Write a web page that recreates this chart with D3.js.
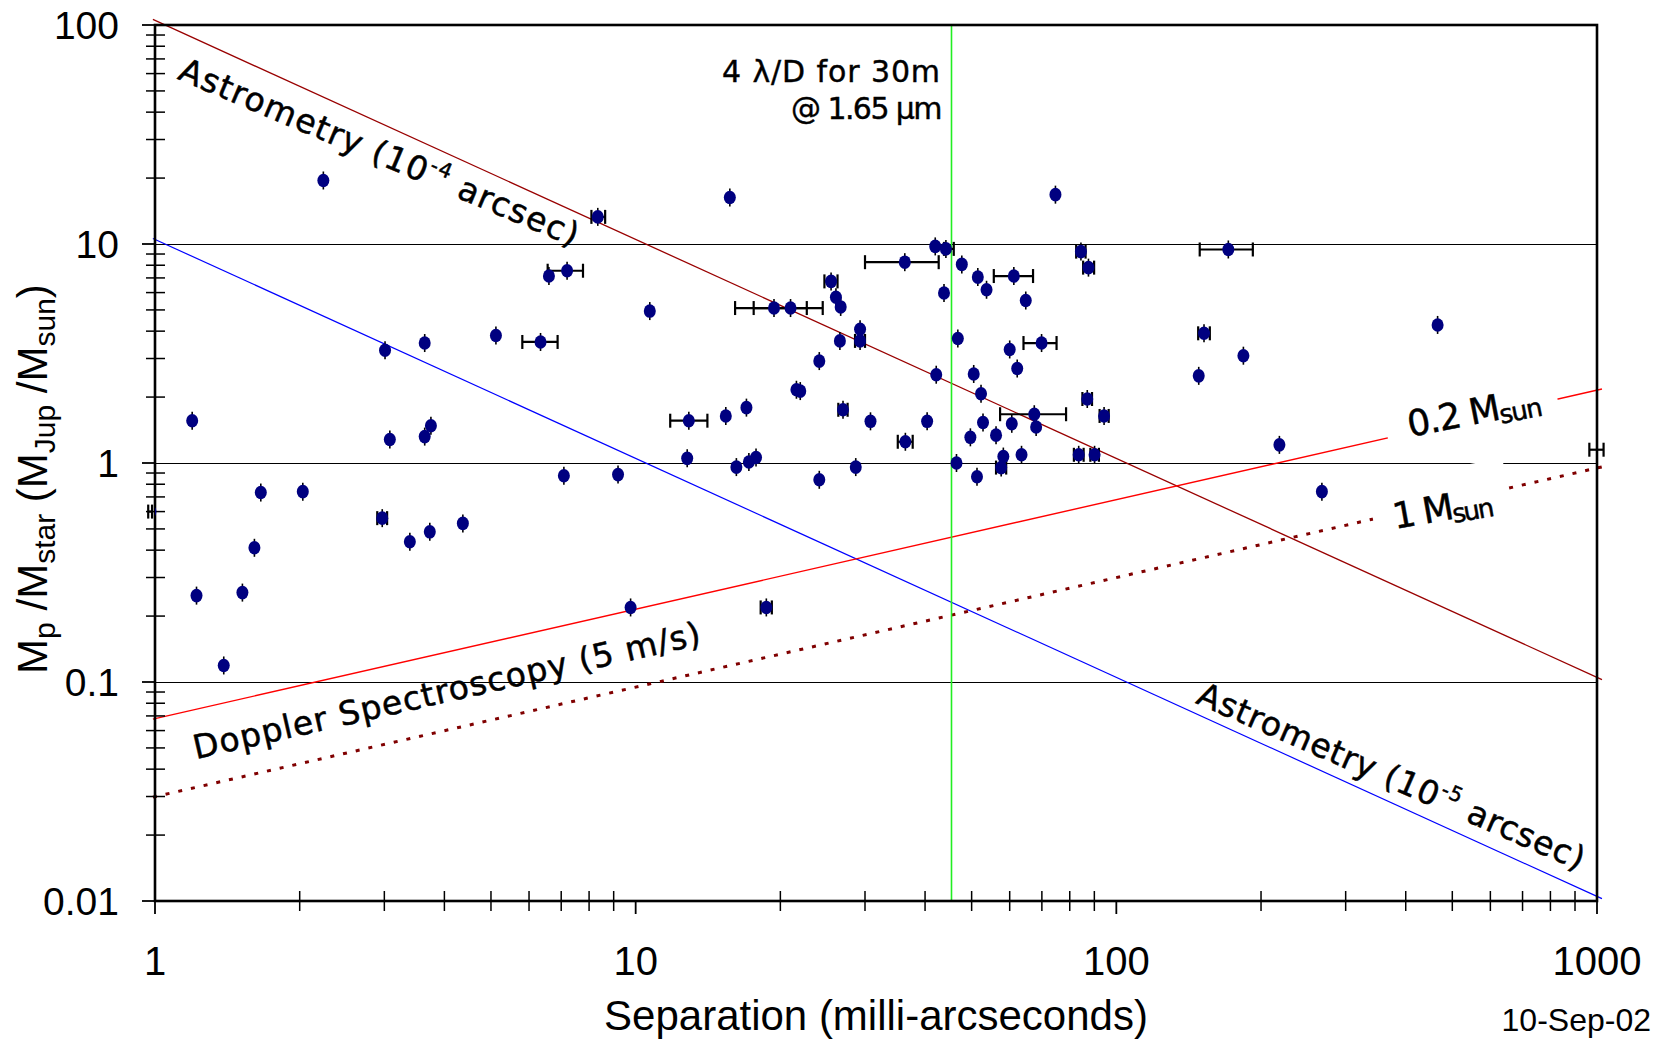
<!DOCTYPE html>
<html><head><meta charset="utf-8">
<script src="https://cdn.jsdelivr.net/npm/d3@7"></script>
<style>body{margin:0;background:#fff;} svg{display:block;}</style>
</head><body>
<svg id="chart" width="1665" height="1041"></svg>
<script>
// ---------------- DATA ----------------
// points without separation error bars
const sepPlain = [1.195,1.22,1.39,1.52,1.61,1.66,2.24,2.03,3.01,3.08,3.39,3.64,3.64,3.75,3.73,4.37,5.12,6.6,7.09,9.19,9.76,10.7,12.8,15.4,15.7,16.2,17.0,17.2,17.8,21.6,22.0,24.1,24.1,26.1,26.7,26.6,28.7,29.3,30.8,40.4,42.0,42.2,43.8,46.5,46.8,47.7,50.5,51.3,51.5,52.3,52.8,53.7,49.7,56.2,58.2,60.0,60.6,62.2,63.5,64.8,68.1,74.7,148.4,183.8,218.4,267.7,466];
const massPlain = [1.56,0.248,0.119,0.256,0.41,0.733,19.5,0.74,3.27,1.28,0.437,3.53,1.32,1.48,0.485,0.53,3.82,7.14,0.875,0.885,0.219,4.94,1.05,1.64,16.3,0.958,1.79,1.01,1.06,2.16,2.13,0.838,2.92,5.71,5.16,3.61,0.958,4.08,1.55,1.55,9.75,2.53,5.97,1.0,3.70,8.07,2.55,0.865,7.06,2.07,1.53,6.18,1.31,1.34,1.07,3.30,1.51,2.70,1.09,5.52,1.46,16.8,2.50,3.09,1.21,0.74,4.27];
// points with separation error bars
const sepEb  = [0.978,2.97,6.34,7.2,8.34,12.9,18.7,19.4,21.0,25.5,27.0,29.3,36.3,36.4,44.2,57.6,61.2,67.5,69.9,83.5,84.4,87.0,87.5,90.1,94.3,152.2,171,1032];
const massEb = [0.60,0.56,3.57,7.55,13.3,1.56,0.219,5.1,5.1,6.75,1.75,3.61,8.26,1.25,9.5,0.953,7.14,1.67,3.53,1.09,9.23,1.96,7.80,1.09,1.64,3.91,9.44,1.15];
const sepLo  = [0.968,2.90,5.81,6.56,8.09,11.8,18.2,16.1,17.6,24.7,26.4,28.6,30.0,35.1,43.8,56.2,55.6,57.3,64.1,81.6,82.5,85.0,85.3,88.3,92.3,148,149.1,964];
const sepHi  = [0.986,3.04,6.88,7.77,8.64,14.1,19.2,22.7,24.5,26.3,27.6,30.0,42.7,37.7,45.9,59.0,67.1,78.6,75.1,85.5,86.3,89.0,89.9,92.0,96.4,156.5,192.3,1032];

// detection limit lines (end points)
const astro4Sep = [0.99, 1024], astro4Mass = [106, 0.1025];
const astro5Sep = [0.99, 1024], astro5Mass = [10.6, 0.01025];
const rv02Sep   = [0.99, 1024], rv02Mass   = [0.0677, 2.176];
const rv1Sep    = [0.99, 1024], rv1Mass    = [0.0298, 0.960];
const iwaSep = 45.4;

// axes
const xTicks = [1, 10, 100, 1000];
const xTickLabels = ["1", "10", "100", "1000"];
const yTicks = [0.01, 0.1, 1, 10, 100];
const yTickLabels = ["0.01", "0.1", "1", "10", "100"];
const gridValues = [0.1, 1, 10];

// ---------------- CHART ----------------
const svg = d3.select("#chart");
const plot = {left:155, right:1597, top:25, bottom:901};
const x = d3.scaleLog().domain([1, 1000]).range([plot.left, plot.right]);
const y = d3.scaleLog().domain([0.01, 100]).range([plot.bottom, plot.top]);
const axisFont = "'Liberation Sans', Arial, sans-serif";
const handFont = "'DejaVu Sans', 'Noto Sans', sans-serif";

svg.append("rect").attr("width",1665).attr("height",1041).attr("fill","#fff");
svg.append("defs").append("clipPath").attr("id","clip").append("rect")
  .attr("x",plot.left).attr("y",plot.top).attr("width",plot.right-plot.left).attr("height",plot.bottom-plot.top);

// gridlines
svg.append("g").selectAll("line").data(gridValues).join("line")
  .attr("x1",plot.left).attr("x2",plot.right)
  .attr("y1",d=>Math.round(y(d))+0.5).attr("y2",d=>Math.round(y(d))+0.5)
  .attr("stroke","#000").attr("stroke-width",1);

// limit lines
const lineGen = d3.line().x(d=>x(d[0])).y(d=>y(d[1]));
function drawLine(xs, ys, color, width, dash){
  svg.append("path").attr("d", lineGen(d3.zip(xs, ys)))
    .attr("fill","none").attr("stroke",color).attr("stroke-width",width)
    .attr("stroke-dasharray", dash || null);
}
drawLine(astro4Sep, astro4Mass, "#990000", 1.3);
drawLine(astro5Sep, astro5Mass, "#0000ff", 1.2);
drawLine(rv02Sep, rv02Mass, "#ff0000", 1.4);
drawLine(rv1Sep, rv1Mass, "#800000", 3, "4,9");
svg.append("line").attr("x1",x(iwaSep)).attr("x2",x(iwaSep)).attr("y1",y(100)).attr("y2",y(0.01))
  .attr("stroke","#22ee22").attr("stroke-width",1.6);

// axes frame
svg.append("rect").attr("x",plot.left).attr("y",plot.top)
  .attr("width",plot.right-plot.left).attr("height",plot.bottom-plot.top)
  .attr("fill","none").attr("stroke","#000").attr("stroke-width",2.6);

const minorX = [], minorY = [];
[1,10,100].forEach(d=>{ for(let k=2;k<=9;k++) minorX.push(d*k); });
[0.01,0.1,1,10].forEach(d=>{ for(let k=2;k<=9;k++) minorY.push(d*k); });

const ax = svg.append("g").attr("stroke","#000");
ax.selectAll(".mx").data(minorX).join("line")
  .attr("x1",d=>x(d)).attr("x2",d=>x(d)).attr("y1",plot.bottom-10).attr("y2",plot.bottom+10).attr("stroke-width",1.5);
ax.selectAll(".Mx").data(xTicks).join("line")
  .attr("x1",d=>x(d)).attr("x2",d=>x(d)).attr("y1",plot.bottom).attr("y2",plot.bottom+13).attr("stroke-width",1.8);
ax.selectAll(".my").data(minorY).join("line")
  .attr("y1",d=>y(d)).attr("y2",d=>y(d)).attr("x1",plot.left-9).attr("x2",plot.left+10).attr("stroke-width",1.5);
ax.selectAll(".My").data(yTicks).join("line")
  .attr("y1",d=>y(d)).attr("y2",d=>y(d)).attr("x1",plot.left-13).attr("x2",plot.left).attr("stroke-width",1.8);

svg.append("g").selectAll("text").data(xTicks).join("text")
  .attr("x",d=>x(d)).attr("y",975).attr("text-anchor","middle")
  .attr("font-family",axisFont).attr("font-size",40).text((d,i)=>xTickLabels[i]);
svg.append("g").selectAll("text").data(yTicks).join("text")
  .attr("x",119).attr("y",d=>y(d)+14).attr("text-anchor","end")
  .attr("font-family",axisFont).attr("font-size",39).text((d,i)=>yTickLabels[i]);

// axis titles
svg.append("text").attr("x",876).attr("y",1030).attr("text-anchor","middle")
  .attr("font-family",axisFont).attr("font-size",42).text("Separation (milli-arcseconds)");
svg.append("text").attr("x",1651).attr("y",1031).attr("text-anchor","end")
  .attr("font-family",axisFont).attr("font-size",32).text("10-Sep-02");

const yt = svg.append("text").attr("transform","translate(47,479) rotate(-90)")
  .attr("text-anchor","middle").attr("font-family",axisFont).attr("font-size",42);
const ytParts = [["M",0],["p",1],[" /M",0],["star",1],["  (M",0],["Jup",1],[" /M",0],["sun",1],[")",0]];
let prevSub = 0;
ytParts.forEach(([t,s])=>{
  const dy = (s?8:0) - (prevSub?8:0);
  yt.append("tspan").attr("dy",dy).attr("font-size", s?30:42).text(t);
  prevSub = s;
});

// ---------- annotation labels ----------
function fit(sel, target){
  const n = sel.node();
  const L = n.getComputedTextLength();
  const c = n.textContent.length;
  sel.attr("letter-spacing", ((target - L)/c).toFixed(2));
}
function addLabel(cfg){
  const g = svg.append("g").attr("transform",`translate(${cfg.x},${cfg.y}) rotate(${cfg.angle})`);
  if (cfg.box) g.append("rect").attr("x",cfg.box[0]).attr("y",-cfg.box[2])
      .attr("width",cfg.box[1]-cfg.box[0]).attr("height",cfg.box[2]+cfg.box[3]).attr("fill","#fff");
  const t = g.append("text").attr("font-family",handFont).attr("font-size",cfg.size)
    .attr("text-anchor",cfg.anchor||"start").attr("fill","#000")
    .attr("stroke","#000").attr("stroke-width",0.5);
  if (cfg.anchor==="middle") t.attr("dy","0.36em");
  cfg.parts.forEach(([txt,kind])=>{
    const ts = t.append("tspan").text(txt);
    if (kind==="sup") ts.attr("font-size",cfg.size*0.62).attr("dy",-cfg.size*0.42);
    else if (kind==="sub") ts.attr("font-size",cfg.size*0.72).attr("dy",cfg.size*0.12);
    else if (kind==="afterSup") ts.attr("dy",cfg.size*0.42);
  });
  fit(t, cfg.len);
  return g;
}
addLabel({x:380,y:152,angle:23,size:33,anchor:"middle",len:432,
  parts:[["Astrometry (10"],["-4","sup"],[" arcsec)","afterSup"]]});
addLabel({x:1392,y:776,angle:23.6,size:33,anchor:"middle",len:420,
  parts:[["Astrometry (10"],["-5","sup"],[" arcsec)","afterSup"]]});
addLabel({x:447,y:690,angle:-12.8,size:33,anchor:"middle",len:520,
  parts:[["Doppler Spectroscopy (5 m/s)"]]});
addLabel({x:1410,y:437,angle:-11,size:36,len:134,box:[-22,152,45,22],
  parts:[["0.2 M"],["sun","sub"]]});
addLabel({x:1395,y:529,angle:-10,size:36,len:99,box:[-20,118,51,12],
  parts:[["1 M"],["sun","sub"]]});
const iwa = svg.append("g").attr("font-family",handFont).attr("font-size",30).attr("text-anchor","end")
  .attr("stroke","#000").attr("stroke-width",0.4);
fit(iwa.append("text").attr("x",941).attr("y",82).text("4 \u03BB/D for 30m"), 219);
fit(iwa.append("text").attr("x",941).attr("y",119).text("@ 1.65 \u03BCm"), 150);

// ---------- data marks ----------
const eb = svg.append("g").attr("stroke","#000").attr("stroke-width",2.2);
sepEb.forEach((s,i)=>{
  const cy = y(massEb[i]), x0 = x(sepLo[i]), x1 = x(sepHi[i]);
  eb.append("line").attr("x1",x0).attr("x2",x1).attr("y1",cy).attr("y2",cy);
  eb.append("line").attr("x1",x0).attr("x2",x0).attr("y1",cy-7).attr("y2",cy+7);
  eb.append("line").attr("x1",x1).attr("x2",x1).attr("y1",cy-7).attr("y2",cy+7);
});

const allSep = sepPlain.concat(sepEb), allMass = massPlain.concat(massEb);
const pts = d3.zip(allSep, allMass);
const dots = svg.append("g").attr("clip-path","url(#clip)");
dots.selectAll("line").data(pts).join("line")
  .attr("x1",d=>x(d[0])).attr("x2",d=>x(d[0]))
  .attr("y1",d=>y(d[1])-9).attr("y2",d=>y(d[1])+9)
  .attr("stroke","#000").attr("stroke-width",1.6);
dots.selectAll("ellipse").data(pts).join("ellipse")
  .attr("cx",d=>x(d[0])).attr("cy",d=>y(d[1])).attr("rx",6).attr("ry",6.8)
  .attr("fill","#000080");
</script>
</body></html>
